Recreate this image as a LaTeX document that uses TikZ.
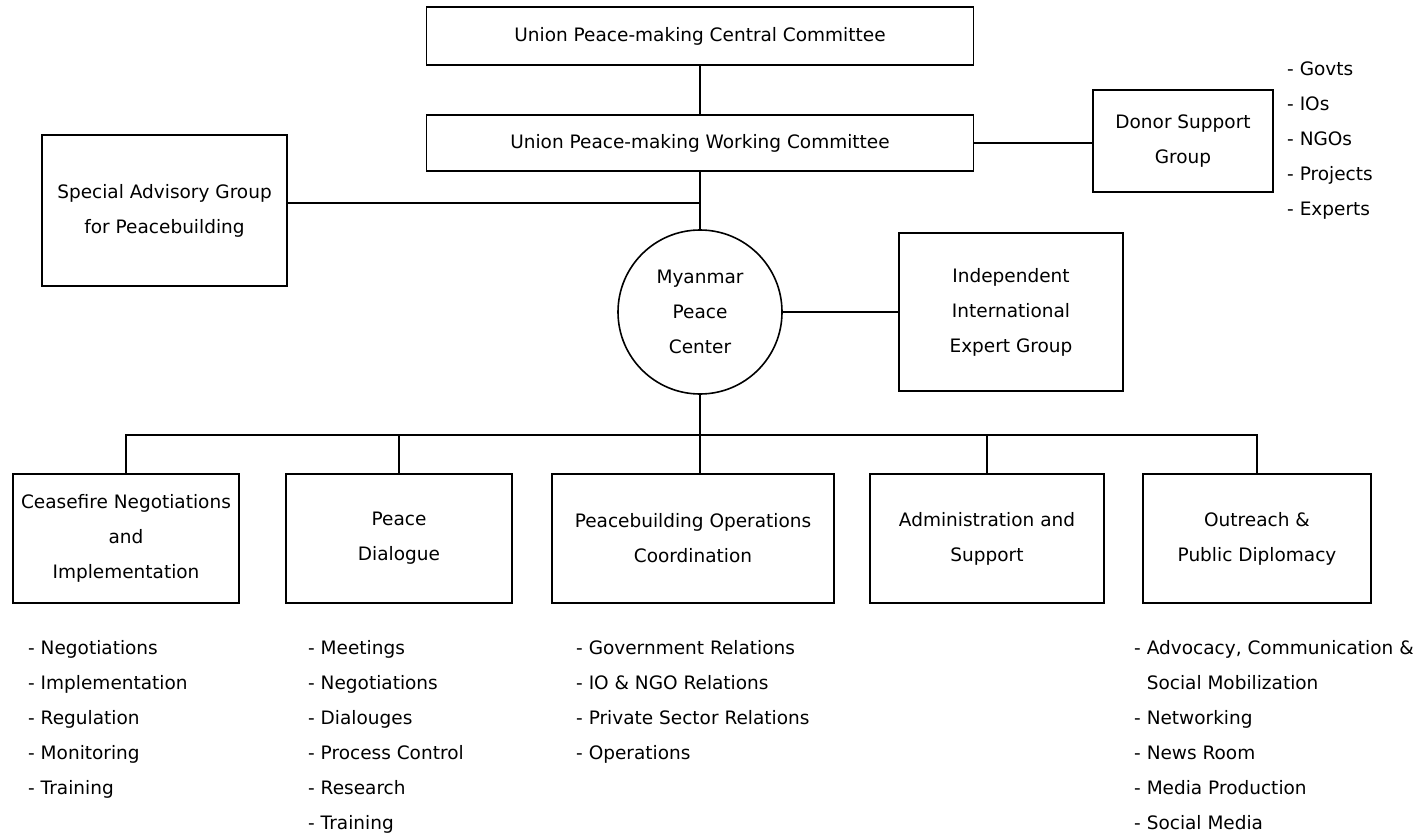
\documentclass[tikz,border=0pt]{standalone}
\usepackage{fontspec}
\setmainfont{DejaVu Sans}
\tikzset{
	unitbox/.style={draw, line width=1.6pt, inner sep=0pt, align=center},
	duties/.style={anchor=north west, align=left, inner sep=0pt},
	link/.style={line width=1.6pt}
}

\begin{document}
\begin{tikzpicture}[x=1pt, y=-1pt, font=\fontsize{18.5}{35}\selectfont]
		\useasboundingbox (0,0) rectangle (1420,837);
		\node[unitbox, minimum width=547, minimum height=58] (central) at (700,36) {Union Peace-making Central Committee};
		\node[unitbox, minimum width=547, minimum height=56] (working) at (700,143) {Union Peace-making Working Committee};
		\node[unitbox, minimum width=245, minimum height=151] (sag) at (164.5,210.5) {Special Advisory Group\\for Peacebuilding};
		\node[unitbox, minimum width=180, minimum height=102] (donor) at (1183,141) {Donor Support\\Group};
		\node[duties] (donorlist) at (1287,62) {- Govts\\- IOs\\- NGOs\\- Projects\\- Experts};
		\node[unitbox, circle, minimum size=164] (mpc) at (700,312) {Myanmar\\Peace\\Center};
		\node[unitbox, minimum width=224, minimum height=158] (indep) at (1011,312) {Independent\\International\\Expert Group};
		%
		\node[unitbox, minimum width=226, minimum height=129] (cease) at (126,538.5) {Ceasefire Negotiations\\and\\Implementation};
		\node[unitbox, minimum width=226, minimum height=129] (dial) at (399,538.5) {Peace\\Dialogue};
		\node[unitbox, minimum width=282, minimum height=129] (pbo) at (693,538.5) {Peacebuilding Operations\\Coordination};
		\node[unitbox, minimum width=234, minimum height=129] (admin) at (987,538.5) {Administration and\\Support};
		\node[unitbox, minimum width=228, minimum height=129] (outr) at (1257,538.5) {Outreach \&\\Public Diplomacy};
		%
		\node[duties] (ceaselist) at (28,640) {- Negotiations\\- Implementation\\- Regulation\\- Monitoring\\- Training};
		\node[duties] (diallist) at (308,640) {- Meetings\\- Negotiations\\- Dialouges\\- Process Control\\- Research\\- Training};
		\node[duties] (pbolist) at (576,640) {- Government Relations\\- IO \& NGO Relations\\- Private Sector Relations\\- Operations};
		\node[duties] (outrlist) at (1134,640) {- Advocacy, Communication \&\\\phantom{- }Social Mobilization\\- Networking\\- News Room\\- Media Production\\- Social Media};
		%
		\coordinate (jn) at (700,203);
		\coordinate (bus) at (700,435);
		\draw[link] (central) to (working);
		\draw[link] (working) to (mpc);
		\draw[link] (sag.east |- jn) to (jn);
		\draw[link] (working.east) to (working.east -| donor.west);
		\draw[link] (mpc) to (indep);
		\draw[link] (mpc) to (bus);
		\draw[link] (cease.north) |- (bus) -| (outr.north);
		\draw[link] (dial.north) to (dial.north |- bus);
		\draw[link] (bus) to (bus |- pbo.north);
		\draw[link] (admin.north) to (admin.north |- bus);
	\end{tikzpicture}
\end{document}
